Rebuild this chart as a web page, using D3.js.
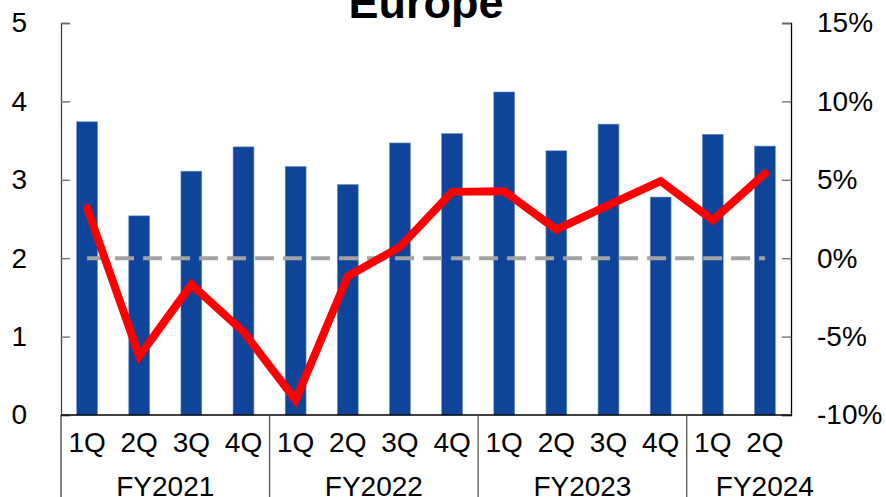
<!DOCTYPE html>
<html>
<head>
<meta charset="utf-8">
<script src="https://cdn.jsdelivr.net/npm/d3@7"></script>
<style>
  html, body { margin: 0; padding: 0; background: #fff; }
  svg { display: block; font-family: "Liberation Sans", Arial, sans-serif; }
</style>
</head>
<body>
<svg id="chart" width="886" height="497"></svg>
<script>
// Quarterly categories grouped by fiscal year
const quarters = ["1Q", "2Q", "3Q", "4Q", "1Q", "2Q", "3Q", "4Q", "1Q", "2Q", "3Q", "4Q", "1Q", "2Q"];
const fiscalYears = ["FY2021", "FY2022", "FY2023", "FY2024"];
const quartersPerYear = [4, 4, 4, 2];

// Bar series (left axis)
const barValues = [3.74, 2.54, 3.11, 3.42, 3.17, 2.94, 3.47, 3.59, 4.12, 3.37, 3.71, 2.78, 3.58, 3.43];
// Line series, percent (right axis)
const lineValues = [3.2, -6.25, -1.68, -4.7, -9.05, -1.15, 0.72, 4.23, 4.27, 1.83, 3.38, 4.92, 2.42, 5.4];

const leftTicks = [0, 1, 2, 3, 4, 5];
const rightTicks = [-10, -5, 0, 5, 10, 15];
const title = "Europe";

const svg = d3.select("#chart");
const plot = { left: 61, right: 791, top: 23, bottom: 415 };

const x = d3.scaleBand()
  .domain(d3.range(quarters.length))
  .range([plot.left, plot.right])
  .padding(0);

const yLeft = d3.scaleLinear().domain([0, 5]).range([plot.bottom, plot.top]);
const yRight = d3.scaleLinear().domain([-10, 15]).range([plot.bottom, plot.top]);

const barW = x.bandwidth() * 0.4;
const cx = i => x(i) + x.bandwidth() / 2;

// Bars
svg.append("g")
  .selectAll("rect")
  .data(barValues)
  .join("rect")
  .attr("x", (d, i) => cx(i) - barW / 2)
  .attr("y", d => yLeft(d))
  .attr("width", barW)
  .attr("height", d => yLeft(0) - yLeft(d))
  .attr("fill", "#0e449a")
  .attr("stroke", "#6f8fc4")
  .attr("stroke-width", 0.6);

// Zero reference line on the percent axis
svg.append("line")
  .attr("x1", cx(0))
  .attr("x2", cx(quarters.length - 1))
  .attr("y1", yRight(0))
  .attr("y2", yRight(0))
  .attr("stroke", "#a3a3a3")
  .attr("stroke-width", 4)
  .attr("stroke-dasharray", "19,9");

// Growth line
const line = d3.line()
  .x((d, i) => cx(i))
  .y(d => yRight(d));

svg.append("path")
  .datum(lineValues)
  .attr("d", line)
  .attr("fill", "none")
  .attr("stroke", "#ff0000")
  .attr("stroke-width", 8)
  .attr("stroke-linejoin", "miter")
  .attr("stroke-linecap", "round");

// Left axis
const leftAxis = d3.axisLeft(yLeft).tickValues(leftTicks).tickSize(-9).tickPadding(0).tickFormat(d3.format("d"));
const gL = svg.append("g").attr("transform", `translate(${plot.left},0)`).call(leftAxis);
gL.select(".domain").attr("stroke", "#404040").attr("stroke-width", 1.3);
gL.selectAll(".tick line").attr("stroke", "#6a6a6a").attr("stroke-width", 1.3);
gL.selectAll(".tick text")
  .attr("x", 27 - plot.left)
  .attr("text-anchor", "end")
  .attr("font-size", 28)
  .attr("font-family", "Liberation Sans, Arial, sans-serif")
  .attr("fill", "#000");

// Right axis
const rightAxis = d3.axisRight(yRight).tickValues(rightTicks).tickSize(-9).tickPadding(0).tickFormat(d => d + "%");
const gR = svg.append("g").attr("transform", `translate(${plot.right},0)`).call(rightAxis);
gR.select(".domain").attr("stroke", "#000").attr("stroke-width", 1.3);
gR.selectAll(".tick line").attr("stroke", "#6a6a6a").attr("stroke-width", 1.3);
gR.selectAll(".tick text")
  .attr("x", 26)
  .attr("text-anchor", "start")
  .attr("font-size", 28)
  .attr("font-family", "Liberation Sans, Arial, sans-serif")
  .attr("fill", "#000");

// Bottom axis baseline
svg.append("line")
  .attr("x1", plot.left).attr("x2", plot.right)
  .attr("y1", plot.bottom).attr("y2", plot.bottom)
  .attr("stroke", "#000").attr("stroke-width", 1.3);

// Quarter labels
svg.append("g")
  .selectAll("text")
  .data(quarters)
  .join("text")
  .attr("x", (d, i) => cx(i))
  .attr("y", 452)
  .attr("text-anchor", "middle")
  .attr("font-size", 28)
  .attr("fill", "#000")
  .text(d => d);

// Fiscal year groups
let start = 0;
const groups = fiscalYears.map((fy, k) => {
  const g = { fy, start, end: start + quartersPerYear[k] };
  start += quartersPerYear[k];
  return g;
});

const sepY2 = 497;
svg.append("g")
  .selectAll("line")
  .data(groups)
  .join("line")
  .attr("x1", d => x(d.start))
  .attr("x2", d => x(d.start))
  .attr("y1", plot.bottom)
  .attr("y2", sepY2)
  .attr("stroke", (d, i) => i === 0 ? "#404040" : "#555")
  .attr("stroke-width", 1.3);

svg.append("g")
  .selectAll("text")
  .data(groups)
  .join("text")
  .attr("x", (d, i) => {
    const x0 = x(d.start);
    const x1 = d.end < quarters.length ? x(d.end) : plot.right;
    const mid = (x0 + x1) / 2;
    // a short final group gets its label nudged right past the axis end
    return d.end - d.start < 4 ? mid + 26 : mid;
  })
  .attr("y", 496)
  .attr("text-anchor", "middle")
  .attr("font-size", 28)
  .attr("fill", "#000")
  .text(d => d.fy);

// Title
svg.append("text")
  .attr("x", (plot.left + plot.right) / 2)
  .attr("y", 17.5)
  .attr("text-anchor", "middle")
  .attr("font-size", 45)
  .attr("font-weight", "bold")
  .attr("fill", "#000")
  .text(title);
</script>
</body>
</html>
